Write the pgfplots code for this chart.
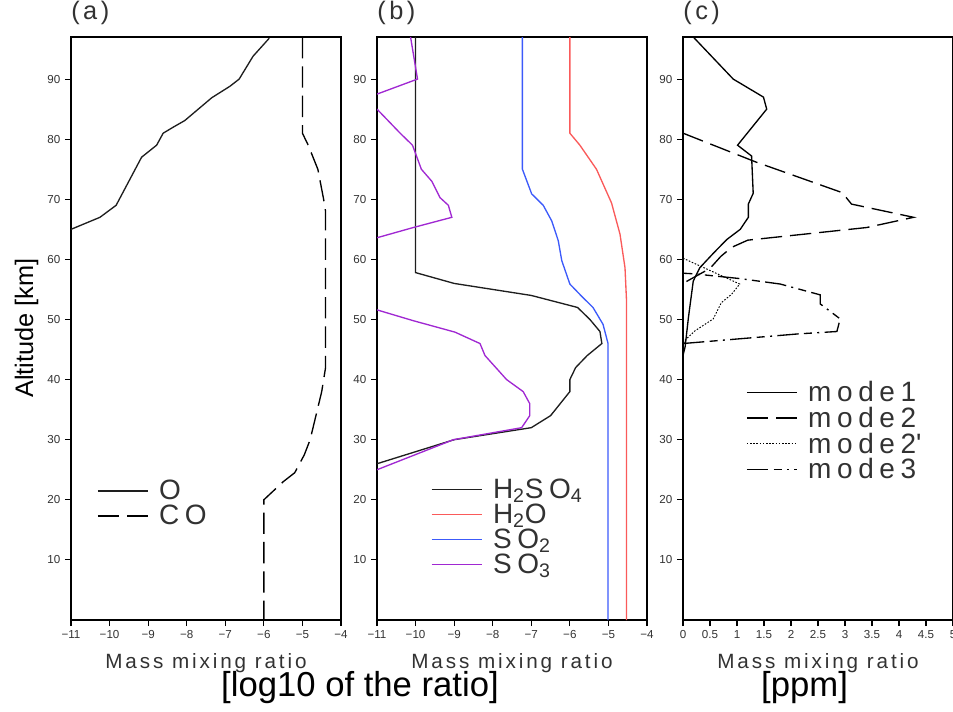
\documentclass[border=0pt]{standalone}
\usepackage{fontspec}
\setmainfont{Liberation Sans}
\newfontfamily\gr[LetterSpace=14]{Liberation Sans}
\newfontfamily\grl[LetterSpace=20]{Liberation Sans}
\usepackage{pgfplots}
\pgfplotsset{compat=1.18}
\definecolor{cred}{RGB}{250,90,90}
\definecolor{cblue}{RGB}{60,90,250}
\definecolor{cpurp}{RGB}{160,40,210}
\definecolor{cblk}{RGB}{30,30,30}
\definecolor{ctxt}{RGB}{50,50,50}
\pgfplotsset{
 panel/.style={
  scale only axis, width=202.5pt, height=437.25pt,
  ymin=0, ymax=97, ytick={10,20,...,90},
  axis line style={line width=1.3pt},
  tick align=outside, xtick pos=bottom, ytick pos=left,
  major tick length=4.5pt,
  tick style={line width=0.8pt, black},
  tick label style={font=\fontsize{8.7}{10}\selectfont, text=ctxt},
  /pgf/number format/assume math mode=true,
  xlabel={Mass mixing ratio},
  xlabel style={font=\gr\fontsize{15.5}{18}\selectfont, text=ctxt, at={(axis description cs:0.5,0)}, anchor=base, yshift=-36pt},
  title style={font=\gr\fontsize{19}{22}\selectfont, text=ctxt, at={(axis description cs:0,1)}, anchor=south west, inner sep=0pt, yshift=3pt},
  legend style={draw=none, fill=none, inner sep=0pt, column sep=8pt, row sep=2.6pt,
     font=\grl\fontsize{21}{24}\selectfont, text=ctxt, cells={anchor=west}, nodes={inner sep=0pt}},
  legend cell align=left,
  legend image code/.code={\draw[#1] (0pt,0pt) -- (37.5pt,0pt);},
 },
 dat/.style={line width=1pt},
}
\begin{document}
\begin{tikzpicture}
\useasboundingbox (0,0) rectangle (714.75pt,533.25pt);
% ---------------- (a)
\begin{axis}[panel, at={(53.25pt,68.25pt)}, anchor=south west, title={(a)},
  xmin=-11, xmax=-4, xtick={-11,...,-4},
  xticklabels={−11,−10,−9,−8,−7,−6,−5,−4},
  legend style={at={(0.096,0.24)}, anchor=north west}]
\addplot[dat, cblk] coordinates {
(-11,65) (-10.25,67) (-9.83,69) (-9.5,73) (-9.17,77) (-8.78,79) (-8.61,81) (-8.35,82) (-8.05,83.1)
(-7.70,85) (-7.35,86.9) (-6.88,88.8) (-6.64,90) (-6.28,93.8) (-5.86,96.8)};
\addlegendentry{O}
\addplot[dat, black, dash pattern=on 16pt off 6pt] coordinates {
(-5,97) (-5,81) (-4.85,79) (-4.6,75) (-4.45,70) (-4.4,68) (-4.4,42) (-4.5,38) (-4.65,34)
(-4.8,30) (-4.95,27.5) (-5.2,24.5) (-5.5,23) (-6,20) (-6,0)};
\addlegendentry{CO}
\end{axis}
% ---------------- (b)
\begin{axis}[panel, at={(282.75pt,68.25pt)}, anchor=south west, title={(b)},
  xmin=-11, xmax=-4, xtick={-11,...,-4},
  xticklabels={−11,−10,−9,−8,−7,−6,−5,−4},
  legend style={at={(0.199,0.243)}, anchor=north west}]
\addplot[dat, cblk] coordinates {
(-10,97) (-10,57.8) (-9,56) (-7,54) (-5.8,52) (-5.48,50) (-5.22,48) (-5.17,46) (-5.55,44)
(-5.85,42) (-6,40) (-6,38) (-6.25,36) (-6.5,34) (-7,32) (-9,30) (-11,26)};
\addlegendentry{H\textsubscript{2}SO\textsubscript{4}}
\addplot[dat, cred] coordinates {
(-6,97) (-6,81) (-5.74,79) (-5.31,75) (-4.92,69.4) (-4.70,64.2) (-4.57,58.6) (-4.53,53) (-4.53,0)};
\addlegendentry{H\textsubscript{2}O}
\addplot[dat, cblue] coordinates {
(-7.23,97) (-7.23,75) (-6.99,70.9) (-6.69,69) (-6.47,66.4) (-6.30,63.1) (-6.21,59.8) (-6,55.9)
(-5.70,53.9) (-5.40,52) (-5.14,49.2) (-5.01,46) (-5.01,0)};
\addlegendentry{SO\textsubscript{2}}
\addplot[dat, cpurp] coordinates {
(-10.13,97) (-9.95,90) (-11,87.5)};
\addlegendentry{SO\textsubscript{3}}
\addplot[dat, cpurp, forget plot] coordinates {
(-11,85) (-10.4,81) (-10.08,79) (-9.85,75) (-9.58,73) (-9.37,70.3) (-9.15,69) (-9.06,67)
(-10.06,65.3) (-11,63.6)};
\addplot[dat, cpurp, forget plot] coordinates {
(-11,51.6) (-10.06,49.8) (-8.98,47.9) (-8.33,46) (-8.2,44) (-7.64,40) (-7.21,38) (-7.04,36)
(-7.04,34) (-7.25,32) (-9.02,30) (-11,25)};
\end{axis}
% ---------------- (c)
\begin{axis}[panel, at={(512.25pt,68.25pt)}, anchor=south west, title={(c)},
  xmin=0, xmax=5, xtick={0,0.5,...,5},
  xticklabels={0,0.5,1,1.5,2,2.5,3,3.5,4,4.5,5},
  legend style={at={(0.233,0.41)}, anchor=north west}]
\addplot[dat, black] coordinates {
(0.19,97) (0.93,90) (1.49,87) (1.55,85) (1.01,79) (1.27,77.2) (1.30,71) (1.21,69.2) (1.21,67)
(1.06,65) (0.81,63.3) (0.56,61) (0.31,58.6) (0.19,56.4) (0.10,50.3) (0.04,45.5) (0,44) (0,0)};
\addlegendentry{mode1}
\addplot[dat, black, dash pattern=on 16pt off 6pt] coordinates {
(0,81) (1.35,76.2) (2.95,71.1) (3.12,69.2) (4.27,67) (3.4,65.3) (1.2,63.2) (0.9,62) (0.7,60.5)
(0.5,58.5) (0.2,57) (0,56)};
\addlegendentry{mode2}
\addplot[line width=0.7pt, black, dash pattern=on 1.2pt off 1.2pt] coordinates {
(0,60.2) (1.05,55.9) (0.9,54.2) (0.71,52.8) (0.56,50.1) (0.22,48.1) (0.03,46.5) (0,45.5)};
\addlegendentry{mode2\textquotesingle}
\addplot[dat, black, dash pattern=on 16pt off 4pt on 6pt off 4pt on 1.5pt off 4pt] coordinates {
(0,46) (2.13,47.6) (2.85,48) (2.91,50.1) (2.54,52.6) (2.54,54.1) (1.8,55.9) (1.06,56.8)
(0.2,57.6) (0,57.7)};
\addlegendentry{mode3}
\end{axis}
\node[anchor=base, font=\fontsize{26}{30}\selectfont] at (270pt,11.25pt) {[log10 of the ratio]};
\node[anchor=base, font=\fontsize{26}{30}\selectfont] at (603.4pt,11.25pt) {[ppm]};
\node[rotate=90, anchor=base, font=\fontsize{19}{22}\selectfont] at (24.75pt,287.25pt) {Altitude [km]};
\end{tikzpicture}
\end{document}
